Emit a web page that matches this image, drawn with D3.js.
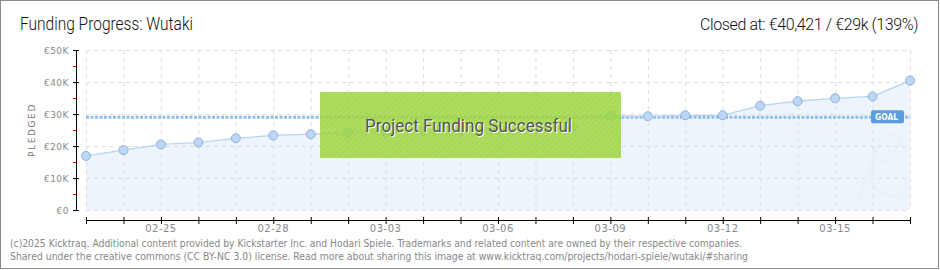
<!DOCTYPE html>
<html>
<head>
<meta charset="utf-8">
<script src="https://cdn.jsdelivr.net/npm/d3@7"></script>
<style>
  html, body { margin: 0; padding: 0; background: #fff; }
  svg { display: block; }
  .pix { font-family: "DejaVu Sans", sans-serif; }
  .thin { font-family: "Roboto", "Open Sans", sans-serif; font-weight: 300; }
</style>
</head>
<body>
<svg id="chart" width="940" height="270"></svg>
<script>
// data
var dayLabels = ["02-23","02-24","02-25","02-26","02-27","02-28","03-01","03-02","03-03","03-04","03-05","03-06",
                 "03-07","03-08","03-09","03-10","03-11","03-12","03-13","03-14","03-15","03-16","03-17"];
var pledged = [16900, 18700, 20500, 21100, 22400, 23300, 23700, 24200, 24400, 24600, 24900, 25200,
               25400, 25700, 29400, 29300, 29600, 29600, 32600, 34000, 34900, 35500, 40421];
var goal = 29000;
var yTicks = [0, 10000, 20000, 30000, 40000, 50000];
var yTickLabels = ["€0", "€10K", "€20K", "€30K", "€40K", "€50K"];
var xLabelDays = ["02-25", "02-28", "03-03", "03-06", "03-09", "03-12", "03-15"];

var svg = d3.select("#chart");
var parseDay = d3.timeParse("%Y-%m-%d");
var dates = dayLabels.map(function (d) { return parseDay("2025-" + d); });

var x = d3.scaleTime()
    .domain([dates[0], dates[dates.length - 1]])
    .range([86, 910]);
var y = d3.scaleLinear()
    .domain([0, 50000])
    .range([210, 50]);

var points = dates.map(function (d, i) { return { date: d, value: pledged[i] }; });

// outer frame
svg.append("rect")
    .attr("x", 0.5).attr("y", 0.5)
    .attr("width", 938).attr("height", 268)
    .attr("fill", "#fff")
    .attr("stroke", "#8a8a8a");

// diagonal hatch for the success banner
var defs = svg.append("defs");
defs.append("pattern")
    .attr("id", "hatch")
    .attr("width", 4).attr("height", 4)
    .attr("patternUnits", "userSpaceOnUse")
    .attr("patternTransform", "rotate(45)")
    .append("rect")
    .attr("width", 1).attr("height", 4)
    .attr("fill", "#ffffff")
    .attr("opacity", 0.12);

// titles
svg.append("text")
    .attr("class", "thin")
    .attr("x", 20).attr("y", 30)
    .attr("textLength", 173)
    .attr("lengthAdjust", "spacingAndGlyphs")
    .style("font-size", "18px")
    .attr("fill", "#111")
    .text("Funding Progress: Wutaki");

svg.append("text")
    .attr("class", "thin")
    .attr("x", 918).attr("y", 30)
    .attr("text-anchor", "end")
    .style("font-size", "16px")
    .style("letter-spacing", "-0.4px")
    .attr("fill", "#111")
    .text("Closed at: €40,421 / €29k (139%)");

// area under the pledge line
var area = d3.area()
    .x(function (d) { return x(d.date); })
    .y0(y(0))
    .y1(function (d) { return y(d.value); });

svg.append("path")
    .datum(points)
    .attr("d", area)
    .attr("fill", "#edf4fc");

// grid
var grid = svg.append("g").attr("class", "grid");
grid.selectAll("line.v")
    .data(dates)
    .enter()
    .append("line")
    .attr("class", "v")
    .attr("x1", function (d) { return x(d) + 0.5; })
    .attr("x2", function (d) { return x(d) + 0.5; })
    .attr("y1", 50).attr("y2", 210)
    .attr("stroke", "#dedede")
    .attr("stroke-dasharray", "4,4");
grid.selectAll("line.h")
    .data(yTicks)
    .enter()
    .append("line")
    .attr("class", "h")
    .attr("x1", 86).attr("x2", 910)
    .attr("y1", function (d) { return y(d) + 0.5; })
    .attr("y2", function (d) { return y(d) + 0.5; })
    .attr("stroke", "#dedede")
    .attr("stroke-dasharray", "4,4");

// watermark
svg.append("path")
    .attr("d", "M858,200 L876,150 M866,175 C895,150 912,140 895,135 C880,130 868,160 872,178 C878,200 900,198 905,192")
    .attr("fill", "none")
    .attr("stroke", "#e9f0f8")
    .attr("stroke-width", 2.5)
    .attr("stroke-linecap", "round");

// goal line
svg.append("line")
    .attr("x1", 86).attr("x2", 910)
    .attr("y1", y(goal)).attr("y2", y(goal))
    .attr("stroke", "#94bdec")
    .attr("stroke-width", 3)
    .attr("stroke-dasharray", "3,1.5");

// pledge line and markers
var line = d3.line()
    .x(function (d) { return x(d.date); })
    .y(function (d) { return y(d.value); });

svg.append("path")
    .datum(points)
    .attr("d", line)
    .attr("fill", "none")
    .attr("stroke", "#b6d3f3")
    .attr("stroke-width", 1.2);

svg.selectAll("circle.pt")
    .data(points)
    .enter()
    .append("circle")
    .attr("class", "pt")
    .attr("cx", function (d) { return x(d.date); })
    .attr("cy", function (d) { return y(d.value); })
    .attr("r", 4.5)
    .attr("fill", "#bcd6f4")
    .attr("stroke", "#8fb2de")
    .attr("stroke-width", 1);

// goal badge
var badge = svg.append("g").attr("transform", "translate(871," + (y(goal) - 7) + ")");
badge.append("rect")
    .attr("width", 33).attr("height", 13)
    .attr("rx", 2)
    .attr("fill", "#5b9be0");
badge.append("text")
    .attr("x", 4).attr("y", 10)
    .attr("class", "pix")
    .attr("textLength", 23)
    .attr("lengthAdjust", "spacingAndGlyphs")
    .style("font-size", "9px")
    .style("font-weight", "bold")
    .attr("fill", "#fff")
    .text("GOAL");

// y axis
var yAxis = svg.append("g").attr("class", "y-axis");
yAxis.append("line")
    .attr("x1", 76.5).attr("x2", 76.5)
    .attr("y1", 50).attr("y2", 210)
    .attr("stroke", "#000");
yAxis.selectAll("line.minor")
    .data(yTicks.slice(1))
    .enter()
    .append("line")
    .attr("class", "minor")
    .attr("x1", 73).attr("x2", 76)
    .attr("y1", function (d) { return y(d - 5000) + 0.5; })
    .attr("y2", function (d) { return y(d - 5000) + 0.5; })
    .attr("stroke", "#e00");
yAxis.selectAll("line.major")
    .data(yTicks)
    .enter()
    .append("line")
    .attr("class", "major")
    .attr("x1", 73).attr("x2", 79)
    .attr("y1", function (d) { return y(d) + 0.5; })
    .attr("y2", function (d) { return y(d) + 0.5; })
    .attr("stroke", "#000");
yAxis.selectAll("text")
    .data(yTicks)
    .enter()
    .append("text")
    .attr("class", "pix")
    .attr("x", 69)
    .attr("y", function (d) { return y(d) + 3.5; })
    .attr("text-anchor", "end")
    .style("font-size", "9px")
    .style("letter-spacing", "0.5px")
    .attr("fill", "#888")
    .text(function (d, i) { return yTickLabels[i]; });

svg.append("text")
    .attr("class", "pix")
    .attr("transform", "translate(35,130) rotate(-90)")
    .attr("text-anchor", "middle")
    .style("font-size", "9px")
    .style("letter-spacing", "1.6px")
    .attr("fill", "#777")
    .text("PLEDGED");

// x axis
var xAxis = svg.append("g").attr("class", "x-axis");
xAxis.append("line")
    .attr("x1", 86).attr("x2", 911)
    .attr("y1", 220.5).attr("y2", 220.5)
    .attr("stroke", "#000");
xAxis.selectAll("line.tick")
    .data(dates)
    .enter()
    .append("line")
    .attr("class", "tick")
    .attr("x1", function (d) { return x(d) + 0.5; })
    .attr("x2", function (d) { return x(d) + 0.5; })
    .attr("y1", 217).attr("y2", 224)
    .attr("stroke", "#000");
xAxis.selectAll("text")
    .data(xLabelDays)
    .enter()
    .append("text")
    .attr("class", "pix")
    .attr("x", function (d) { return x(parseDay("2025-" + d)); })
    .attr("y", 232)
    .attr("text-anchor", "middle")
    .style("font-size", "10px")
    .style("letter-spacing", "0.5px")
    .attr("fill", "#888")
    .text(function (d) { return d; });

// success banner
var banner = svg.append("g");
banner.append("rect")
    .attr("x", 320).attr("y", 92)
    .attr("width", 301).attr("height", 66)
    .attr("fill", "#9ad43a")
    .attr("fill-opacity", 0.85);
banner.append("rect")
    .attr("x", 320).attr("y", 92)
    .attr("width", 301).attr("height", 66)
    .attr("fill", "url(#hatch)");
banner.append("text")
    .attr("class", "thin")
    .attr("x", 366).attr("y", 133)
    .attr("textLength", 207)
    .attr("lengthAdjust", "spacingAndGlyphs")
    .style("font-size", "19px")
    .style("font-weight", 400)
    .attr("fill", "#fff")
    .text("Project Funding Successful");
banner.append("text")
    .attr("class", "thin")
    .attr("x", 365).attr("y", 132)
    .attr("textLength", 207)
    .attr("lengthAdjust", "spacingAndGlyphs")
    .style("font-size", "19px")
    .style("font-weight", 400)
    .attr("fill", "#555")
    .text("Project Funding Successful");

// footer
var footer = [
    "(c)2025 Kicktraq. Additional content provided by Kickstarter Inc. and Hodari Spiele. Trademarks and related content are owned by their respective companies.",
    "Shared under the creative commons (CC BY-NC 3.0) license. Read more about sharing this image at www.kicktraq.com/projects/hodari-spiele/wutaki/#sharing"
];
var footerWidths = [732, 738];
svg.selectAll("text.footer")
    .data(footer)
    .enter()
    .append("text")
    .attr("class", "footer")
    .attr("x", 10)
    .attr("y", function (d, i) { return 247 + i * 12.5; })
    .attr("textLength", function (d, i) { return footerWidths[i]; })
    .attr("lengthAdjust", "spacingAndGlyphs")
    .style("font-family", "'DejaVu Sans', sans-serif")
    .style("font-size", "10px")
    .attr("fill", "#888")
    .text(function (d) { return d; });
</script>
</body>
</html>
